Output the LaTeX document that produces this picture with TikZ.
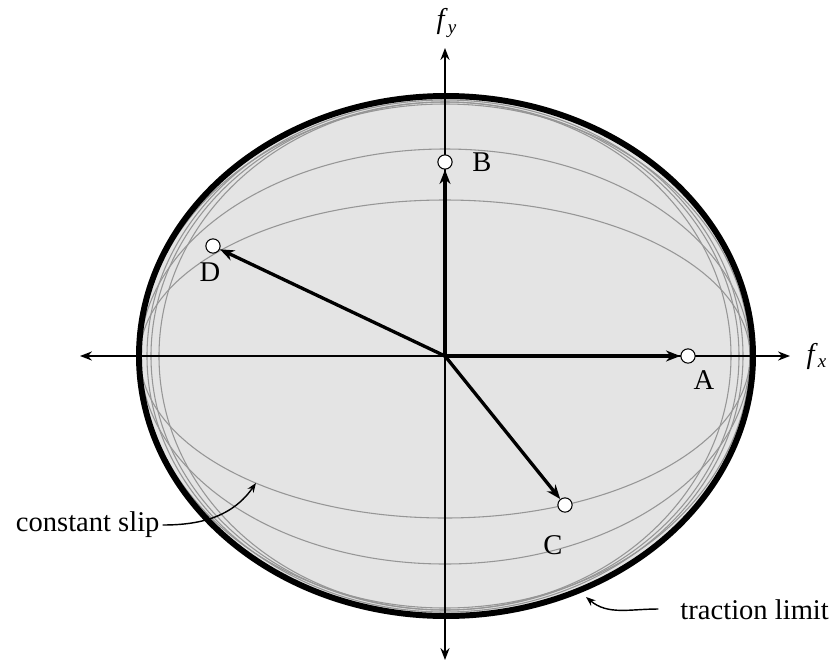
\documentclass[tikz,border=0pt]{standalone}
\usepackage{fontspec}
\setmainfont{Liberation Serif}
\usetikzlibrary{arrows.meta}
\definecolor{limitfill}{RGB}{228,228,228}
\definecolor{slipgray}{RGB}{150,150,150}
\tikzset{
	slip/.style={draw=slipgray, line width=0.45pt},
	axis/.style={line width=0.8pt, {Stealth[length=5pt,width=3.8pt]}-{Stealth[length=5pt,width=3.8pt]}},
	vec/.style={line width=1.4pt, -{Stealth[length=6pt,width=4.6pt]}},
	note/.style={line width=0.6pt, -{Stealth[length=4pt,width=3pt]}},
	pt/.style={circle, draw, fill=white, line width=0.45pt, minimum size=6pt, inner sep=0pt}
}
\begin{document}
\begin{tikzpicture}[x=0.42pt, y=0.42pt, font=\fontsize{12}{14}\selectfont, line join=round, line cap=round]
		\useasboundingbox (-445,-307) rectangle (388,356);
		\coordinate (O) at (0,0);
		% friction ellipse
		\fill[limitfill] (1,0) ellipse[x radius=307, y radius=260];
		% constant slip curves
		\foreach \h in {252,207,156}
			\draw[slip] (-305,0) arc[start angle=180, end angle=0, x radius=305, y radius=\h];
		\foreach \h in {162,208,252}
			\draw[slip] (-305,0) arc[start angle=180, end angle=360, x radius=305, y radius=\h];
		\foreach \r in {286,294}
			\draw[slip] (0,0) ellipse[x radius=\r, y radius=254];
		\draw[slip] (0,0) ellipse[x radius=298, y radius=256];
		\draw[line width=2.5pt] (1,0) ellipse[x radius=307, y radius=260];
		% axes
		\coordinate (xl) at (-365,0);
		\coordinate (xr) at (345,0);
		\coordinate (yb) at (0,-304);
		\coordinate (yt) at (0,308);
		\draw[axis] (xl) -- (xr);
		\draw[axis] (yb) -- (yt);
		\node (fx) at (372,0) {\textit{f}\textsubscript{\textit{x}}};
		\node (fy) at (2,333) {\textit{f}\textsubscript{\textit{y}}};
		% force points
		\node[pt] (A) at (243,0) {};
		\node[pt] (B) at (0,194) {};
		\node[pt] (C) at (120,-149) {};
		\node[pt] (D) at (-232,110) {};
		\draw[vec] (O) -- (A);
		\draw[vec] (O) -- (B);
		\draw[vec] (O) -- (C);
		\draw[vec] (O) -- (D);
		\node (lA) at (259,-24) {A};
		\node (lB) at (37,194) {B};
		\node (lC) at (108,-189) {C};
		\node (lD) at (-235,84) {D};
		% annotations
		\node[anchor=east, inner sep=0pt] (cs) at (-285,-169) {constant slip};
		\coordinate (ct) at (-189,-127);
		\draw[note] (cs.east) ++(3,0) to[out=0, in=-125] (ct);
		\node[anchor=west, inner sep=0pt] (tl) at (235,-254) {traction limit};
		\coordinate (tt) at (141,-241);
		\draw[note] (tl.west) ++(-22,1) to[out=180, in=-40] (tt);
\end{tikzpicture}
\end{document}
